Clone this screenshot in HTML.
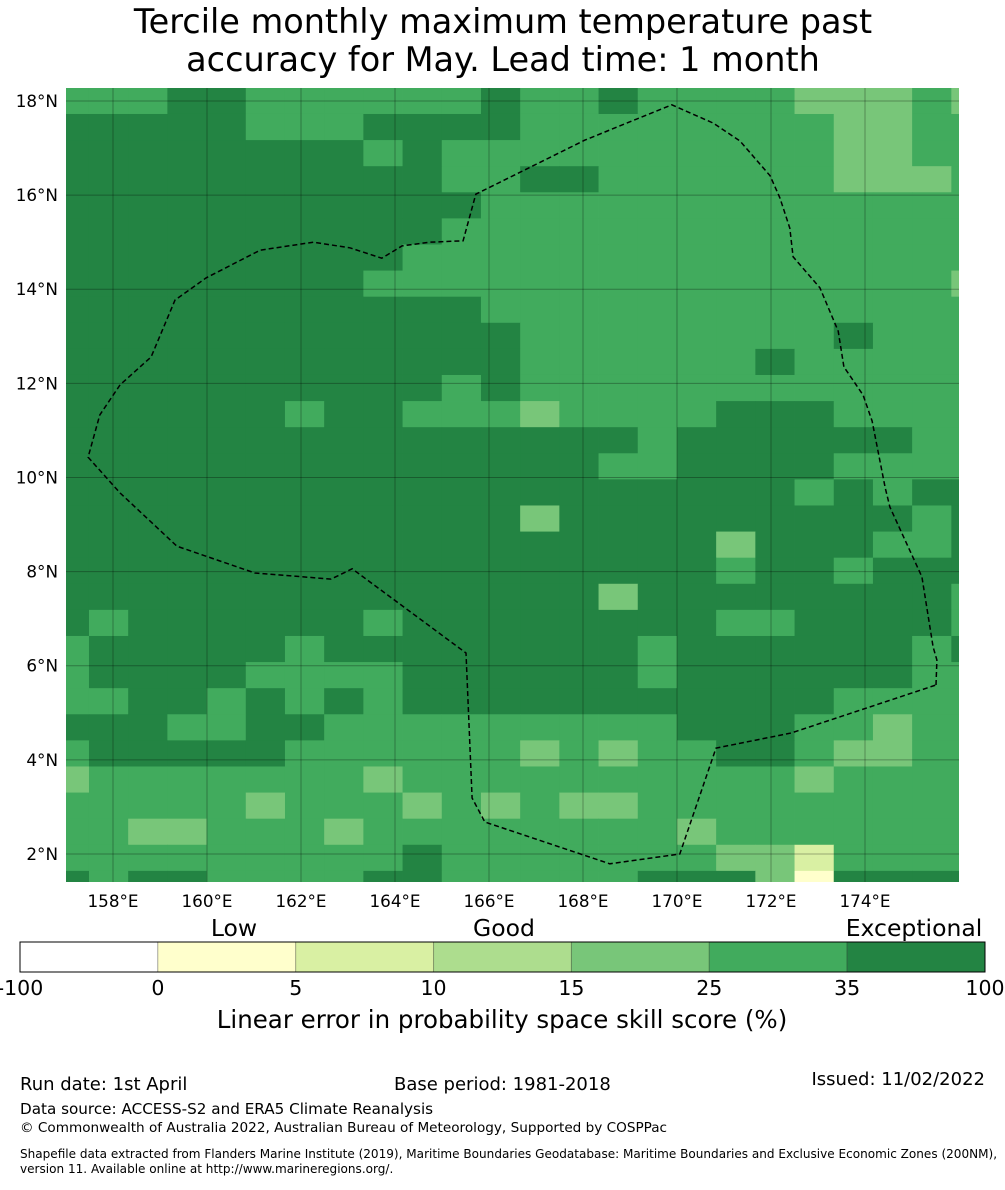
<!DOCTYPE html>
<html><head><meta charset="utf-8"><style>
body{margin:0;background:#fff;}
svg text{font-family:"DejaVu Sans","Liberation Sans",sans-serif;fill:#000;}
</style></head><body>
<svg id="chart" width="1005" height="1185" viewBox="0 0 1005 1185" xmlns="http://www.w3.org/2000/svg">
<text x="503" y="33" font-size="33.5" text-anchor="middle">Tercile monthly maximum temperature past</text>
<text x="503" y="71" font-size="33.5" text-anchor="middle">accuracy for May. Lead time: 1 month</text>
<defs><clipPath id="mapclip"><rect x="66" y="88" width="893" height="794"/></clipPath></defs>
<g id="cells" clip-path="url(#mapclip)"></g>
<g id="grid" clip-path="url(#mapclip)"></g>
<g id="eez" clip-path="url(#mapclip)"></g>
<g id="yticks"></g>
<g id="xticks"></g>
<g id="cbar"></g>
<text x="234" y="936" font-size="23.5" text-anchor="middle">Low</text>
<text x="504" y="936" font-size="23.5" text-anchor="middle">Good</text>
<text x="914" y="936" font-size="23.5" text-anchor="middle">Exceptional</text>
<text x="502" y="1028" font-size="24.5" text-anchor="middle">Linear error in probability space skill score (%)</text>
<text x="20" y="1090" font-size="18">Run date: 1st April</text>
<text x="394" y="1090" font-size="18">Base period: 1981-2018</text>
<text x="985" y="1085" font-size="18" text-anchor="end">Issued: 11/02/2022</text>
<text x="20" y="1114" font-size="15.2">Data source: ACCESS-S2 and ERA5 Climate Reanalysis</text>
<text x="20" y="1132" font-size="13.6">© Commonwealth of Australia 2022, Australian Bureau of Meteorology, Supported by COSPPac</text>
<text x="20" y="1158" font-size="12.05">Shapefile data extracted from Flanders Marine Institute (2019), Maritime Boundaries Geodatabase: Maritime Boundaries and Exclusive Economic Zones (200NM),</text>
<text x="20" y="1173" font-size="12.05">version 11. Available online at http://www.marineregions.org/.</text>
</svg>
<script>
// Grid data: rows top (north) to bottom (south), columns west to east
// D = 35-100, M = 25-35, L = 15-25, P = 5-10, Y = 0-5
const skillRows = [
"MMMDDMMMMMMDMMDMMMMLLLML",
"DDDDDMMMDDDDMMMMMMMMLLMM",
"DDDDDDDDMDMMMMMMMMMMLLMM",
"DDDDDDDDDDMMDDMMMMMMLLLM",
"DDDDDDDDDDDMMMMMMMMMMMMM",
"DDDDDDDDDDMMMMMMMMMMMMMM",
"DDDDDDDDDMMMMMMMMMMMMMMM",
"DDDDDDDDMMMMMMMMMMMMMMML",
"DDDDDDDDDDDMMMMMMMMMMMMM",
"DDDDDDDDDDDDMMMMMMMMDMMM",
"DDDDDDDDDDDDMMMMMMDMMMMM",
"DDDDDDDDDDMDMMMMMMMMMMMM",
"DDDDDDMDDMMMLMMMMDDDMMMM",
"DDDDDDDDDDDDDDDMDDDDDDMM",
"DDDDDDDDDDDDDDMMDDDDMMMM",
"DDDDDDDDDDDDDDDDDDDMDMDD",
"DDDDDDDDDDDDLDDDDDDDDDMD",
"DDDDDDDDDDDDDDDDDLDDDMMD",
"DDDDDDDDDDDDDDDDDMDDMDDD",
"DDDDDDDDDDDDDDLDDDDDDDDM",
"DMDDDDDDMDDDDDDDDMMDDDDM",
"MDDDDDMDDDDDDDDMDDDDDDMD",
"MDDDDMMMMDDDDDDMDDDDDDMM",
"MMDDMDMDMDDDDDDDDDDDMMMM",
"DDDMMDDMMMMMMMMMDDDMMLMM",
"MDDDDDMMMMMMLMLMMDDMLLMM",
"LMMMMMMMLMMMMMMMMMMLMMMM",
"MMMMMLMMMLMLMLLMMMMMMMMM",
"MMLLMMMLMMMMMMMMLMMMMMMM",
"MMMMMMMMMDMMMMMMMLLPMMMM",
"DMDDMMMMDDMMMMMDDDLYDDDD"
];
const skillByCode = {D:45, M:30, L:20, A:12, P:7, Y:2};
const binEdges = [-100, 0, 5, 10, 15, 25, 35, 100];
const binColors = ["#ffffff","#ffffcc","#d9f0a3","#addd8e","#78c679","#41ab5d","#238443"];
const binLabels = ["-100","0","5","10","15","25","35","100"];
const lonTicks = [158,160,162,164,166,168,170,172,174];
const latTicks = [18,16,14,12,10,8,6,4,2];
const eezLon = [175.51,175.53,175.45,175.21,174.53,174.43,174.15,173.96,173.55,173.43,173.04,172.47,172.40,172.19,171.98,171.34,170.77,169.89,168.04,165.72,165.45,164.74,164.15,163.72,163.04,162.26,161.13,159.98,159.32,158.81,158.15,157.72,157.47,158.15,159.36,161.02,162.64,163.09,165.51,165.64,165.91,168.57,170.06,170.83,172.43,175.51];
const eezLat = [5.59,6.12,6.40,7.89,9.37,9.78,11.20,11.75,12.35,13.11,14.03,14.69,15.30,15.94,16.41,17.15,17.53,17.92,17.17,16.02,15.03,15.00,14.92,14.66,14.88,15.00,14.83,14.24,13.77,12.56,11.97,11.33,10.43,9.67,8.54,7.97,7.84,8.06,6.27,3.19,2.68,1.79,2.00,4.25,4.57,5.59];

const NS = "http://www.w3.org/2000/svg";
function xOf(lon){ return 113 + (lon - 158) * 47; }
function yOf(lat){ return 101 + (18 - lat) * 47.06; }
const cellLon = 0.834, cellLat = 0.5546;
const lon0 = 157.489 - cellLon, lat0 = 17.724 + cellLat;
function colorFor(v){ for(let i=0;i<binColors.length;i++){ if(v>=binEdges[i] && v<binEdges[i+1]) return binColors[i]; } return binColors[binColors.length-1]; }

const cells = document.getElementById('cells');
skillRows.forEach((row, r) => {
  for (let c = 0; c < row.length; c++) {
    const v = skillByCode[row[c]];
    const x1 = xOf(lon0 + c*cellLon), x2 = xOf(lon0 + (c+1)*cellLon);
    const y1 = yOf(lat0 - r*cellLat), y2 = yOf(lat0 - (r+1)*cellLat);
    const rect = document.createElementNS(NS,'rect');
    
    
    rect.setAttribute('x', x1); rect.setAttribute('y', y1);
    rect.setAttribute('width', x2-x1+0.4); rect.setAttribute('height', y2-y1+0.4);
    rect.setAttribute('fill', colorFor(v));
    cells.appendChild(rect);
  }
});

const grid = document.getElementById('grid');
const xt = document.getElementById('xticks');
lonTicks.forEach(lon => {
  const x = xOf(lon);
  const l = document.createElementNS(NS,'line');
  
  
  l.setAttribute('x1',x); l.setAttribute('x2',x); l.setAttribute('y1',88); l.setAttribute('y2',882);
  l.setAttribute('stroke','rgba(0,0,0,0.3)'); l.setAttribute('stroke-width','1');
  grid.appendChild(l);
  const t = document.createElementNS(NS,'text');
  
  
  t.setAttribute('x',x); t.setAttribute('y',907); t.setAttribute('font-size','16.8'); t.setAttribute('text-anchor','middle');
  t.textContent = lon + '°E';
  xt.appendChild(t);
});
const yt = document.getElementById('yticks');
latTicks.forEach(lat => {
  const y = yOf(lat);
  const l = document.createElementNS(NS,'line');
  
  
  l.setAttribute('x1',66); l.setAttribute('x2',959); l.setAttribute('y1',y); l.setAttribute('y2',y);
  l.setAttribute('stroke','rgba(0,0,0,0.3)'); l.setAttribute('stroke-width','1');
  grid.appendChild(l);
  const t = document.createElementNS(NS,'text');
  
  
  t.setAttribute('x',58); t.setAttribute('y',y+6); t.setAttribute('font-size','16.8'); t.setAttribute('text-anchor','end');
  t.textContent = lat + '°N';
  yt.appendChild(t);
});

const eez = document.getElementById('eez');
const pl = document.createElementNS(NS,'polyline');


pl.setAttribute('points', eezLon.map((lo,i)=> xOf(lo).toFixed(1)+','+yOf(eezLat[i]).toFixed(1)).join(' '));
pl.setAttribute('fill','none'); pl.setAttribute('stroke','#000'); pl.setAttribute('stroke-width','1.5'); pl.setAttribute('stroke-dasharray','5,3');
eez.appendChild(pl);

const cb = document.getElementById('cbar');
const cbX0 = 20, cbX1 = 985, nB = binColors.length, segW = (cbX1-cbX0)/nB;
binColors.forEach((col,i) => {
  const r = document.createElementNS(NS,'rect');
  
  
  r.setAttribute('x', cbX0+i*segW); r.setAttribute('y', 942); r.setAttribute('width', segW); r.setAttribute('height', 30);
  r.setAttribute('fill', col); r.setAttribute('stroke','rgba(0,0,0,0.25)'); r.setAttribute('stroke-width','1');
  cb.appendChild(r);
});
const frame = document.createElementNS(NS,'rect');


frame.setAttribute('x',cbX0); frame.setAttribute('y',942); frame.setAttribute('width',cbX1-cbX0); frame.setAttribute('height',30);
frame.setAttribute('fill','none'); frame.setAttribute('stroke','#000'); frame.setAttribute('stroke-width','1');
cb.appendChild(frame);
binLabels.forEach((lab,i) => {
  const t = document.createElementNS(NS,'text');
  
  
  t.setAttribute('x', cbX0+i*segW); t.setAttribute('y', 995); t.setAttribute('font-size','20.5'); t.setAttribute('text-anchor','middle');
  t.textContent = lab;
  cb.appendChild(t);
});
</script>
</body></html>
